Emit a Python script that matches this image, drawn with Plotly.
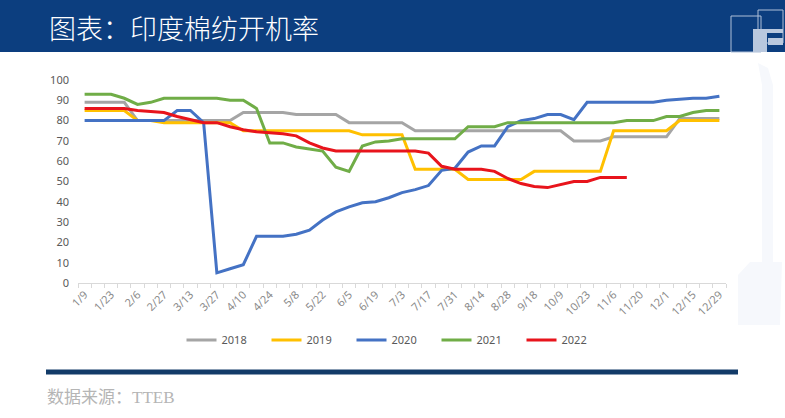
import plotly.graph_objects as go

# page / plot-area geometry in pixels
W, H = 785, 418
L, R, T, B = 78, 59, 80, 135

dates = ["1/9", "1/16", "1/23", "1/30", "2/6", "2/20", "2/27", "3/6", "3/13", "3/20",
         "3/27", "4/3", "4/10", "4/17", "4/24", "5/1", "5/8", "5/15", "5/22", "5/29",
         "6/5", "6/12", "6/19", "6/26", "7/3", "7/10", "7/17", "7/24", "7/31", "8/7",
         "8/14", "8/21", "8/28", "9/11", "9/18", "10/2", "10/9", "10/16", "10/23", "10/30",
         "11/6", "11/13", "11/20", "11/27", "12/1", "12/8", "12/15", "12/22", "12/29"]
tick_text = [d if i % 2 == 0 else "" for i, d in enumerate(dates)]

y2018 = [89, 89, 89, 89, 80, 80, 80, 80, 80, 80, 80, 80, 84, 84, 84, 84, 83, 83, 83, 83,
         79, 79, 79, 79, 79, 75, 75, 75, 75, 75, 75, 75, 75, 75, 75, 75, 75, 70, 70, 70,
         72, 72, 72, 72, 72, 81, 81, 81, 81]
y2019 = [85, 85, 85, 85, 80, 80, 79, 79, 79, 79, 79, 79, 75, 75, 75, 75, 75, 75, 75, 75,
         75, 73, 73, 73, 73, 56, 56, 56, 56, 51, 51, 51, 51, 51, 55, 55, 55, 55, 55, 55,
         75, 75, 75, 75, 75, 80, 80, 80, 80]
y2020 = [80, 80, 80, 80, 80, 80, 80, 85, 85, 79, 5, 7, 9, 23, 23, 23, 24, 26, 31, 35,
         37.5, 39.5, 40, 42, 44.5, 46, 48, 55.5, 56.5, 64.5, 67.5, 67.5, 77, 80, 81, 83, 83, 80.5, 89, 89,
         89, 89, 89, 89, 90, 90.5, 91, 91, 92]
y2021 = [93, 93, 93, 91, 88, 89, 91, 91, 91, 91, 91, 90, 90, 86, 69, 69, 67, 66, 65, 57,
         55, 67.5, 69.5, 70, 71, 71, 71, 71, 71, 77, 77, 77, 79, 79, 79, 79, 79, 79, 79, 79,
         79, 80, 80, 80, 82, 82, 84, 85, 85]
y2022 = [86, 86, 86, 86, 85, 84.5, 84, 82, 80.5, 79, 79, 77, 75.5, 74.5, 74, 73.5, 72.5, 69, 66.5, 65,
         65, 65, 65, 65, 65, 65, 64, 57.5, 56, 56, 56, 55, 51.5, 49, 47.5, 47, 48.5, 50, 50, 52,
         52, 52, None, None, None, None, None, None, None]

series = [("2018", y2018, "#a5a5a5"),
          ("2019", y2019, "#ffc000"),
          ("2020", y2020, "#4472c4"),
          ("2021", y2021, "#70ad47"),
          ("2022", y2022, "#e8141c")]


def px_x(px):
    return (px - L) / (W - L - R)


def px_y(py):
    return (H - B - py) / (H - T - B)


def rect(x0, y0, x1, y1, **kw):
    return dict(type="rect", xref="paper", yref="paper",
                x0=px_x(x0), x1=px_x(x1), y0=px_y(y1), y1=px_y(y0), **kw)


def poly(points, color):
    path = "M " + " L ".join(f"{px_x(a)},{px_y(b)}" for a, b in points) + " Z"
    return dict(type="path", xref="paper", yref="paper", layer="below",
                path=path, fillcolor=color, line=dict(width=0))


fig = go.Figure()

for name, ys, color in series:
    fig.add_trace(go.Scatter(
        x=dates, y=ys, name=name, mode="lines",
        line=dict(color=color, width=3),
        connectgaps=False,
    ))

logo = "#b9c8de"
shapes = [
    # title bar
    rect(0, 0, W, 52, layer="below", fillcolor="#0c3e7f", line=dict(width=0)),
    # logo
    rect(731, 16, 761, 52, fillcolor="rgba(0,0,0,0)", line=dict(color="#aebfd9", width=1)),
    rect(758, 10, 783, 43, fillcolor="rgba(0,0,0,0)", line=dict(color="#aebfd9", width=1)),
    rect(753, 29, 767, 52, fillcolor=logo, line=dict(width=0)),
    rect(753, 29, 783, 33, fillcolor=logo, line=dict(width=0)),
    rect(768, 38, 783, 45, fillcolor=logo, line=dict(width=0)),
    # faint decoration on the right edge
    poly([(758, 63), (768, 68), (773, 85), (773, 262), (782, 262), (780, 325),
          (738, 325), (738, 275), (750, 262), (762, 262), (762, 85)], "#f6f8fc"),
    # bottom rule
    dict(type="line", xref="paper", yref="paper",
         x0=px_x(46), x1=px_x(738), y0=px_y(372), y1=px_y(372),
         line=dict(color="#123b68", width=5)),
]

annotations = [
    dict(text="图表：印度棉纺开机率", xref="paper", yref="paper",
         x=px_x(47), y=px_y(27), xanchor="left", yanchor="middle", showarrow=False,
         font=dict(family="Noto Sans CJK SC", size=27, color="white", weight=300)),
    dict(text="数据来源：TTEB", xref="paper", yref="paper",
         x=px_x(45), y=px_y(397), xanchor="left", yanchor="middle", showarrow=False,
         font=dict(family="Liberation Serif, Noto Sans CJK SC", size=17, color="#b5b5b5")),
]

fig.update_layout(
    width=W, height=H,
    margin=dict(l=L, r=R, t=T, b=B),
    paper_bgcolor="white", plot_bgcolor="white",
    shapes=shapes, annotations=annotations,
    showlegend=True,
    legend=dict(orientation="h", x=px_x(394), y=px_y(340),
                xanchor="center", yanchor="middle",
                entrywidth=40, entrywidthmode="pixels",
                font=dict(family="Noto Sans", size=11, color="#595959")),
    xaxis=dict(
        type="category", range=[-0.5, len(dates) - 0.5],
        tickmode="array", tickvals=dates, ticktext=tick_text,
        tickson="boundaries", ticks="outside", ticklen=4, tickcolor="#d9d9d9",
        tickangle=-45, showline=True, linecolor="#d9d9d9", showgrid=False,
        tickfont=dict(family="Noto Sans", size=11, color="#8a8a8a"),
    ),
    yaxis=dict(
        range=[0, 100], dtick=10, showgrid=False, zeroline=False, showline=False,
        ticks="", ticklabelstandoff=8,
        tickfont=dict(family="Noto Sans", size=11, color="#595959"),
    ),
)

fig.write_html("out.html", config={"displayModeBar": False},
               post_script="document.body.style.margin='0';")
